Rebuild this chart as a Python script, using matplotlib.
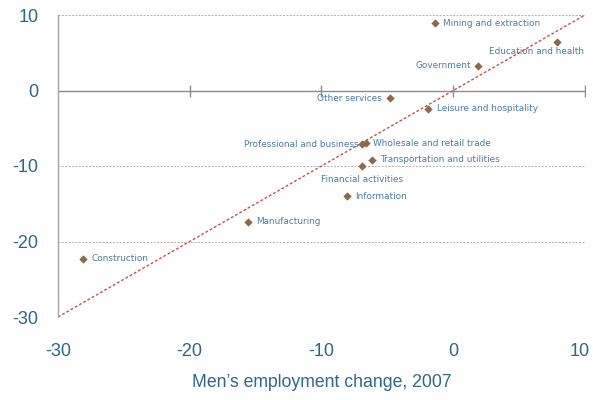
import numpy as np
import matplotlib.pyplot as plt
import matplotlib.transforms as mtransforms

plt.rcParams['axes.unicode_minus'] = False

# men's vs women's employment change by industry, 2007
industries = ["Mining and extraction", "Education and health", "Government",
              "Other services", "Leisure and hospitality",
              "Professional and business", "Wholesale and retail trade",
              "Transportation and utilities", "Financial activities",
              "Information", "Manufacturing", "Construction"]
men_change = [-1.4, 7.9, 1.9, -4.8, -1.9, -6.9, -6.6, -6.2, -6.9, -8.1, -15.6, -28.1]
women_change = [8.9, 6.4, 3.25, -1.0, -2.45, -7.1, -7.0, -9.2, -10.0, -14.0, -17.4, -22.3]

ticks = [-30, -20, -10, 0, 10]

# label placement: (dx, dy in points, ha, va)
label_pos = {
    "Mining and extraction": (6, 0, "left", "center"),
    "Education and health": (19, -7, "right", "center"),
    "Government": (-5, 0, "right", "center"),
    "Other services": (-6, 0, "right", "center"),
    "Leisure and hospitality": (6, 0, "left", "center"),
    "Professional and business": (-3, 0, "right", "center"),
    "Wholesale and retail trade": (5, 0, "left", "center"),
    "Transportation and utilities": (6, 0, "left", "center"),
    "Financial activities": (0, -10, "center", "center"),
    "Information": (6, 0, "left", "center"),
    "Manufacturing": (6, 0, "left", "center"),
    "Construction": (6, 0, "left", "center"),
}

tick_col = "#2f6589"
text_col = "#4f7b9e"

fig = plt.figure(figsize=(5.93, 4.0), dpi=100)
ax = fig.add_axes([0.0978, 0.2075, 0.8887, 0.755])

ax.set_xlim(-30, 10)
ax.set_ylim(-30, 10)

# dashed horizontal gridlines
for y in [10, -10, -20, -30]:
    ax.axhline(y, color="#b0b0b0", lw=0.7, ls=(0, (2, 1.5)), zorder=1)
ax.axhline(0, color="#8c8c8c", lw=1.0, zorder=1)
ax.plot(ticks[1:], [0] * 4, ls="none", marker="|", ms=8, mew=1.0,
        color="#8c8c8c", zorder=1)

# 45 degree line
ax.plot([-30, 10], [-30, 10], color="#c0504d", lw=1.0, ls=(0, (2, 1.5)), zorder=2)

ax.scatter(men_change, women_change, marker="D", s=18, color="#8b6a4b",
           zorder=3, linewidths=0)

for name, x, y in zip(industries, men_change, women_change):
    dx, dy, ha, va = label_pos[name]
    ax.annotate(name, (x, y), xytext=(dx, dy), textcoords="offset points",
                ha=ha, va=va, fontsize=6.4, color=text_col, zorder=4)

for s in ["top", "right", "bottom"]:
    ax.spines[s].set_visible(False)
ax.spines["left"].set_color("#a6a6a6")
ax.spines["left"].set_linewidth(1.0)

ax.set_xticks(ticks)
ax.set_yticks(ticks)
ax.tick_params(axis="both", length=0, labelsize=13, colors=tick_col,
               labelfontfamily="Liberation Sans")
ax.tick_params(axis="x", pad=19)
ax.tick_params(axis="y", pad=14)

# nudge the last x label so it stays inside the figure
last = ax.get_xticklabels()[-1]
last.set_transform(last.get_transform() +
                   mtransforms.ScaledTranslation(-4 / 72, 0, fig.dpi_scale_trans))

ax.set_xlabel("Men\u2019s employment change, 2007", fontsize=12.7,
              color=tick_col, family="Liberation Sans", labelpad=10)

fig.savefig("out.png", dpi=100)
